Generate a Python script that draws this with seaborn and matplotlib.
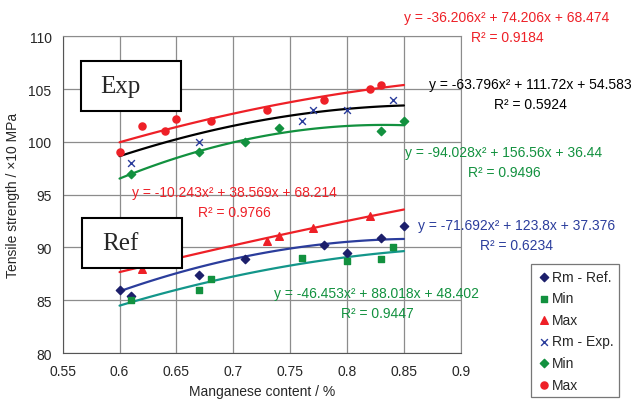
import numpy as np
import pandas as pd
import matplotlib.pyplot as plt
import seaborn as sns
from matplotlib.patches import Rectangle

# Experimental series
exp_rm_x = [0.61, 0.67, 0.76, 0.77, 0.80, 0.84]
exp_rm_y = [98.0, 100.0, 102.0, 103.0, 103.0, 104.0]
exp_min_x = [0.61, 0.67, 0.71, 0.74, 0.83, 0.85]
exp_min_y = [97.0, 99.0, 100.0, 101.3, 101.0, 102.0]
exp_max_x = [0.60, 0.62, 0.64, 0.65, 0.68, 0.73, 0.78, 0.82, 0.83]
exp_max_y = [99.0, 101.5, 101.0, 102.2, 102.0, 103.0, 104.0, 105.0, 105.4]

# Reference series
ref_rm_x = [0.60, 0.61, 0.67, 0.71, 0.78, 0.80, 0.83, 0.85]
ref_rm_y = [86.0, 85.4, 87.4, 88.9, 90.2, 89.5, 90.9, 92.0]
ref_min_x = [0.61, 0.67, 0.68, 0.76, 0.80, 0.83, 0.84]
ref_min_y = [85.0, 86.0, 87.0, 89.0, 88.7, 88.9, 90.0]
ref_max_x = [0.62, 0.73, 0.74, 0.77, 0.82]
ref_max_y = [88.0, 90.6, 91.1, 91.8, 93.0]

# trend line coefficients (a, b, c) for y = a x^2 + b x + c, and R^2
coef_exp_max = [-36.206, 74.206, 68.474]
coef_exp_rm = [-63.796, 111.72, 54.583]
coef_exp_min = [-94.028, 156.56, 36.44]
coef_ref_max = [-10.243, 38.569, 68.214]
coef_ref_rm = [-71.692, 123.8, 37.376]
coef_ref_min = [-46.453, 88.018, 48.402]
r2_exp_max, r2_exp_rm, r2_exp_min = 0.9184, 0.5924, 0.9496
r2_ref_max, r2_ref_rm, r2_ref_min = 0.9766, 0.6234, 0.9447

sns.set_style('white')
plt.rcParams['font.family'] = ['Liberation Sans', 'DejaVu Sans']

fig = plt.figure(figsize=(6.33, 4.06), dpi=100)
ax = fig.add_axes([0.099, 0.128, 0.629, 0.78])

red = '#ee2027'
green = '#12913f'
teal = '#13968a'
blue = '#2b3d9c'
navy = '#1c1f6b'

xs = np.linspace(0.6, 0.85, 100)


def trend(coef, color):
    ys = coef[0] * xs ** 2 + coef[1] * xs + coef[2]
    sns.lineplot(x=xs, y=ys, color=color, lw=1.6, ax=ax, zorder=2)


trend(coef_exp_max, red)
trend(coef_exp_rm, 'black')
trend(coef_exp_min, green)
trend(coef_ref_max, red)
trend(coef_ref_rm, blue)
trend(coef_ref_min, teal)

h1 = ax.scatter(ref_rm_x, ref_rm_y, marker='D', s=18, color=navy, zorder=3, label='Rm - Ref.')
h2 = ax.scatter(ref_min_x, ref_min_y, marker='s', s=24, color=green, zorder=3, label='Min')
h3 = ax.scatter(ref_max_x, ref_max_y, marker='^', s=30, color=red, zorder=3, label='Max')
h4 = ax.scatter(exp_rm_x, exp_rm_y, marker='x', s=24, color=blue, lw=1.0, zorder=3, label='Rm - Exp.')
h5 = ax.scatter(exp_min_x, exp_min_y, marker='D', s=18, color=green, zorder=3, label='Min')
h6 = ax.scatter(exp_max_x, exp_max_y, marker='o', s=26, color=red, zorder=3, label='Max')

ax.set_xlim(0.55, 0.9)
ax.set_ylim(80, 110)
ax.set_xticks(np.arange(0.55, 0.901, 0.05))
ax.set_xticklabels(['0.55', '0.6', '0.65', '0.7', '0.75', '0.8', '0.85', '0.9'])
ax.set_yticks(range(80, 111, 5))
ax.grid(True, color='#8c8c8c', lw=0.9)
for side in ['top', 'right']:
    ax.spines[side].set_color('#8c8c8c')
for side in ['left', 'bottom']:
    ax.spines[side].set_color('#555555')
ax.tick_params(axis='both', direction='out', length=4, color='#555555', labelsize=10, pad=4)
ax.set_xlabel('Manganese content / %', fontsize=10)
ax.set_ylabel('Tensile strength / ×10 MPa', fontsize=10, labelpad=6)


def label_box(text, x0, y0, x1, y1, tx):
    fig.add_artist(Rectangle((x0 / 633, 1 - y1 / 406), (x1 - x0) / 633, (y1 - y0) / 406,
                             transform=fig.transFigure, fc='white', ec='black', lw=1.5, zorder=5))
    fig.text(tx / 633, 1 - (y0 + y1) / 2 / 406, text, family='Liberation Serif', fontsize=18,
             ha='center', va='center', zorder=6)


label_box('Exp', 81, 62, 181, 112, 120)
label_box('Ref', 82, 219, 182, 269, 120)


def eq(coef, r2, xpix, ypix, color):
    a, b, c = coef
    s = f'y = {a:g}x² + {b:g}x + {c:g}'
    fig.text(xpix / 633, 1 - ypix / 406, s, color=color, fontsize=10, ha='center', va='center')
    fig.text(xpix / 633, 1 - (ypix + 20) / 406, f'R² = {r2:.4f}', color=color, fontsize=10,
             ha='center', va='center')


eq(coef_exp_max, r2_exp_max, 507, 18, red)
eq(coef_exp_rm, r2_exp_rm, 530, 85, 'black')
eq(coef_exp_min, r2_exp_min, 504, 153, green)
eq(coef_ref_max, r2_ref_max, 234, 193, red)
eq(coef_ref_rm, r2_ref_rm, 517, 226, blue)
eq(coef_ref_min, r2_ref_min, 377, 294, green)

leg = fig.legend(handles=[h1, h2, h3, h4, h5, h6], loc='upper left',
                 bbox_to_anchor=(531 / 633, 1 - 265 / 406), frameon=True, fancybox=False,
                 fontsize=10, handletextpad=0.1, handlelength=1.0, borderpad=0.4,
                 labelspacing=0.55, borderaxespad=0)
leg.get_frame().set_edgecolor('#555555')
leg.get_frame().set_linewidth(0.9)

fig.savefig('out.png', dpi=100)
